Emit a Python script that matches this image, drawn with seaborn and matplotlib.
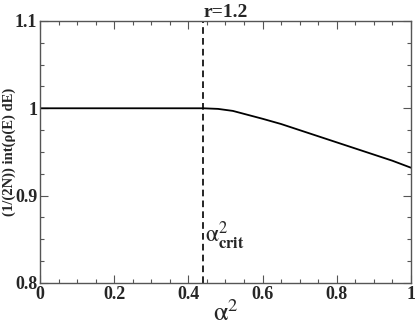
import matplotlib
matplotlib.use("Agg")
import matplotlib.pyplot as plt
import seaborn as sns
from matplotlib.ticker import MultipleLocator, FuncFormatter

# data
alpha2 = [0.0, 0.1, 0.2, 0.3, 0.4, 0.44, 0.48, 0.52, 0.56, 0.60, 0.65,
          0.70, 0.75, 0.80, 0.85, 0.90, 0.95, 1.0]
norm_int = [1.0, 1.0, 1.0, 1.0, 1.0, 1.0, 0.9993, 0.997, 0.9925, 0.988, 0.982,
            0.975, 0.968, 0.961, 0.954, 0.947, 0.940, 0.932]
alpha2_crit = 0.44

sns.set_style("ticks")
plt.rcParams["font.family"] = ["Liberation Serif", "DejaVu Serif"]
plt.rcParams["mathtext.fontset"] = "stix"

fig = plt.figure(figsize=(4.15, 3.27), dpi=100)
ax = fig.add_axes([0.0964, 0.1346, 0.8936, 0.8014])

sns.lineplot(x=alpha2, y=norm_int, ax=ax, color="black", linewidth=1.3)
ax.axvline(alpha2_crit, color="black", linestyle=(0, (4, 2.5)), linewidth=1.2)
ax.text(alpha2_crit + 0.006, 0.846, r"$\mathrm{α}^{2}_{\mathbf{crit}}$", fontsize=17,
        va="baseline")

ax.set_xlim(0, 1)
ax.set_ylim(0.8, 1.1)
ax.xaxis.set_major_locator(MultipleLocator(0.2))
ax.xaxis.set_minor_locator(MultipleLocator(0.05))
ax.yaxis.set_major_locator(MultipleLocator(0.1))
ax.yaxis.set_minor_locator(MultipleLocator(0.025))
ax.xaxis.set_major_formatter(FuncFormatter(lambda v, p: f"{v:g}"))
ax.yaxis.set_major_formatter(FuncFormatter(lambda v, p: f"{v:g}"))
ax.tick_params(which="both", direction="in", top=True, right=True, color="#555555")
ax.tick_params(which="major", length=6, width=0.8, labelsize=13, pad=2)
ax.tick_params(which="minor", length=3, width=0.8)
for lab in ax.get_xticklabels() + ax.get_yticklabels():
    lab.set_fontweight("bold")
for sp in ax.spines.values():
    sp.set_color("#555555")
    sp.set_linewidth(1.0)

ax.set_xlabel(r"$\mathrm{α}^{2}$", fontsize=19, labelpad=-2)
ax.set_ylabel("(1/(2N)) int(ρ(E) dE)", fontsize=10.5, fontweight="bold")
ax.yaxis.set_label_coords(-0.066, 0.5)
ax.set_title("r=1.2", fontsize=14, fontweight="bold", pad=3)

fig.savefig("out.png", dpi=100)
